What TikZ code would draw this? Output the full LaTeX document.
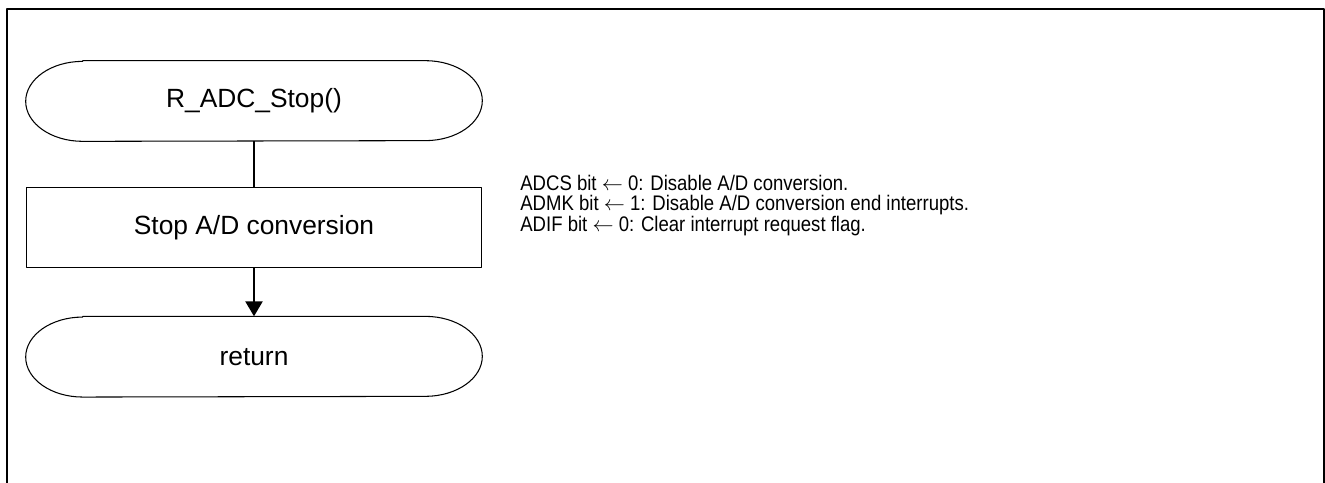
\documentclass[tikz,border=0pt]{standalone}
\usepackage{fontspec}
\setmainfont{Liberation Sans}
\newfontfamily\notefont[FakeStretch=0.88]{Liberation Sans}
\usetikzlibrary{positioning,arrows.meta}
\begin{document}
\begin{tikzpicture}[x=0.02cm,y=0.02cm, line join=round,
	box/.style={draw, line width=0.6pt, minimum width=9.12cm, minimum height=1.6cm, font=\fontsize{15}{18}\selectfont},
	term/.style={minimum width=9.12cm, minimum height=1.6cm, font=\fontsize{15}{18}\selectfont},
	flow/.style={line width=1.7pt, -{Triangle[width=9.5pt,length=8.5pt]}}]
	\useasboundingbox (0,0) rectangle (1325,-483);
	% frame (open at the bottom)
	\draw[line width=1.1pt] (7,-483)--(7,-9)--(1324,-9)--(1324,-483);
	\node[term] (start) at (254,-101) {R\_ADC\_Stop()};
	\node[box, below=0.92cm of start] (stop) {Stop A/D conversion};
	\node[term, below=0.96cm of stop] (ret) {return};
	\foreach \n in {start,ret}
		\draw[line width=0.6pt] ([xshift=1.14cm]\n.north west)--([xshift=-1.14cm]\n.north east)
			arc[start angle=90,end angle=-90,x radius=1.14cm,y radius=0.8cm]
			--([xshift=1.14cm]\n.south west)
			arc[start angle=270,end angle=90,x radius=1.14cm,y radius=0.8cm]--cycle;
	\draw[line width=1.7pt] (start)--(stop);
	\draw[flow] (stop)--(ret);
	\node[anchor=west, align=left, inner sep=0pt, font=\notefont\fontsize{12}{11.1}\selectfont] (note) at (520,-206)
		{ADCS bit $\leftarrow$ 0: Disable A/D conversion.\\
		 ADMK bit $\leftarrow$ 1: Disable A/D conversion end interrupts.\\
		 ADIF bit $\leftarrow$ 0: Clear interrupt request flag.};
\end{tikzpicture}
\end{document}
